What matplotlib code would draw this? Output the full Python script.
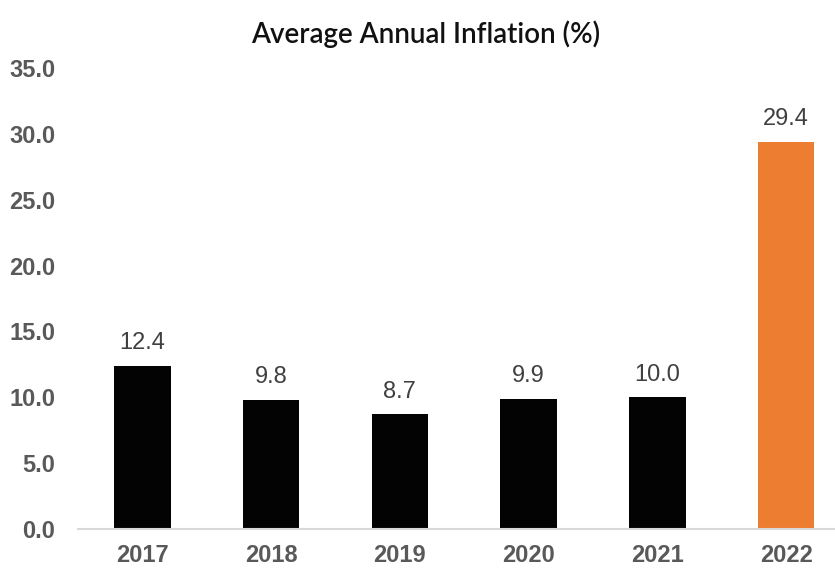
import matplotlib
matplotlib.use("Agg")
import matplotlib.pyplot as plt

plt.rcParams["font.family"] = ["Liberation Sans", "DejaVu Sans"]

years = ["2017", "2018", "2019", "2020", "2021", "2022"]
inflation = [12.4, 9.8, 8.7, 9.9, 10.0, 29.4]
bar_colors = ["#030304", "#030304", "#030304", "#030304", "#030304", "#ED7D31"]
y_ticks = [0, 5, 10, 15, 20, 25, 30, 35]

fig = plt.figure(figsize=(8.35, 5.68), dpi=100)
ax = fig.add_axes([0.0934, 0.0687, 0.9066, 0.8113])

x = list(range(len(years)))
ax.bar(x, inflation, width=0.44, color=bar_colors, zorder=2)

for xi, v in zip(x, inflation):
    ax.annotate(f"{v:.1f}", (xi, v), xytext=(0, 12), textcoords="offset points",
                ha="center", va="baseline", fontsize=17, color="#404040")

ax.set_ylim(0, 35)
ax.set_xlim(-0.5, 5.38)
ax.set_yticks(y_ticks)
ax.set_yticklabels([f"{t:.1f}" for t in y_ticks], fontsize=17, fontweight="bold",
                   color="#595959")
ax.set_xticks(x)
ax.set_xticklabels(years, fontsize=17, fontweight="bold", color="#595959")
ax.tick_params(axis="both", length=0)
ax.tick_params(axis="y", pad=16.5)
ax.tick_params(axis="x", pad=10.5)

for side in ["top", "right", "left"]:
    ax.spines[side].set_visible(False)
ax.spines["bottom"].set_color("#D9D9D9")
ax.spines["bottom"].set_linewidth(1.5)

fig.text(0.51, 0.924, "Average Annual Inflation (%)", ha="center", va="baseline",
         fontsize=20, color="#111111", family=["Lato", "DejaVu Sans"], fontweight="semibold")

fig.savefig("out.png", dpi=100)
